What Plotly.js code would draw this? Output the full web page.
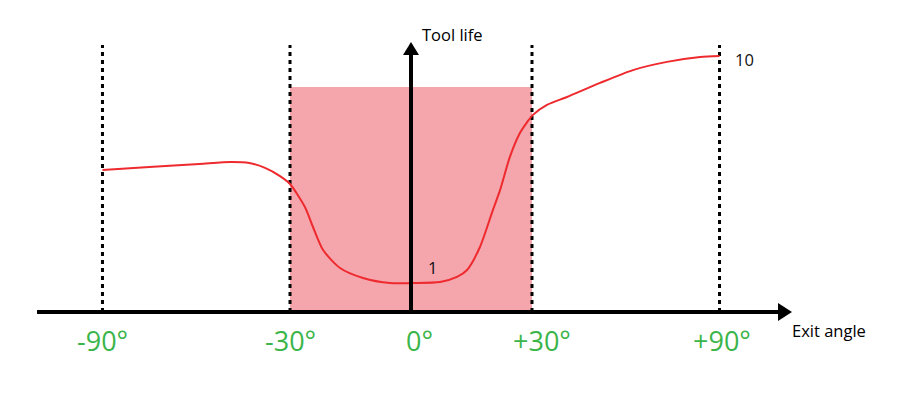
<!DOCTYPE html>
<html>
<head>
<meta charset="utf-8">
<script src="https://cdn.plot.ly/plotly-3.0.1.min.js"></script>
<style>html,body{margin:0;padding:0;background:#fff;}#chart{width:921px;height:411px;}</style>
</head>
<body>
<div id="chart"></div>
<script>
// ---- data (exit angle in degrees, tool life in relative units) ----
const tickAngles = [-90, -30, 0, 30, 90];
const tickLabels = ['-90°', '-30°', '0°', '+30°', '+90°'];
const curveAngle = [-90, -75, -59, -49, -43, -38, -33.2, -30, -26.3, -24.3, -21.8, -17.6, -11.9, -5.2, 0.5, 7.2, 11.4, 13.9, 17.1, 20.3, 22.1, 24.5, 27.0, 28.8, 30.3, 34.8, 41.2, 51.8, 62.3, 73.2, 83.8, 90];
const curveLife  = [5.55, 5.66, 5.78, 5.86, 5.82, 5.63, 5.31, 5.0, 4.10, 3.32, 2.42, 1.72, 1.33, 1.13, 1.13, 1.17, 1.37, 1.64, 2.54, 3.98, 4.77, 6.05, 6.99, 7.42, 7.70, 8.09, 8.40, 8.95, 9.45, 9.77, 9.96, 10.0];
const zoneAngles = [-30, 30];
const zoneTop = 8.79;
const pointLabels = ['1', '10'];
const pointAngles = [0, 90];
const pointLife = [1.13, 10.0];
const xTitle = 'Exit angle';
const yTitle = 'Tool life';

// ---- schematic axis warp: the ±30° zone is drawn wider than the outer parts ----
function disp(d) {
  const a = Math.abs(d);
  if (a <= 30) return d;
  return Math.sign(d) * (30 + (a - 30) * 46.5 / 60);
}

const PX_X = 4.033, PX_Y = 25.6, X0 = 411, Y0 = 312, W = 921, H = 411;
const xRange = [(0 - X0) / PX_X, (W - X0) / PX_X];
const yRange = [(Y0 - H) / PX_Y, Y0 / PX_Y];
const px = p => (p - X0) / PX_X;      // layout helper for decorations
const py = p => (Y0 - p) / PX_Y;

const green = '#3bb54a';
const font = 'Open Sans, Noto Sans, sans-serif';

const trace = {
  x: curveAngle.map(disp), y: curveLife,
  type: 'scatter', mode: 'lines',
  line: {color: '#ee2a2e', width: 2, shape: 'spline', smoothing: 0.7},
  hoverinfo: 'skip'
};

const shapes = [];
// shaded zone
shapes.push({type: 'rect', layer: 'below', xref: 'x', yref: 'y',
  x0: disp(zoneAngles[0]), x1: disp(zoneAngles[1]), y0: 0, y1: zoneTop,
  fillcolor: '#f5a5ac', line: {width: 0}});
// dashed guide lines
tickAngles.forEach(a => {
  if (a === 0) return;
  shapes.push({type: 'line', layer: 'below', xref: 'x', yref: 'y',
    x0: disp(a), x1: disp(a), y0: 0, y1: py(45),
    line: {color: '#000', width: 3, dash: '4px,4px'}});
});
// x axis line + arrow head
shapes.push({type: 'line', layer: 'above', xref: 'x', yref: 'y',
  x0: px(37), x1: px(781), y0: 0, y1: 0, line: {color: '#000', width: 4}});
shapes.push({type: 'path', layer: 'above', xref: 'x', yref: 'y',
  path: `M ${px(792)} 0 L ${px(778)} ${py(303)} L ${px(778)} ${py(321)} Z`,
  fillcolor: '#000', line: {width: 0}});
// y axis line + arrow head
shapes.push({type: 'line', layer: 'above', xref: 'x', yref: 'y',
  x0: 0, x1: 0, y0: 0, y1: py(52), line: {color: '#000', width: 4}});
shapes.push({type: 'path', layer: 'above', xref: 'x', yref: 'y',
  path: `M 0 ${py(42)} L ${px(403)} ${py(55)} L ${px(419)} ${py(55)} Z`,
  fillcolor: '#000', line: {width: 0}});

const labelShift = [0, 0, 8, 10, 2];
const annotations = [];
tickAngles.forEach((a, i) => {
  annotations.push({x: disp(a), y: py(340), xref: 'x', yref: 'y', text: tickLabels[i],
    showarrow: false, xanchor: 'center', yanchor: 'middle', xshift: labelShift[i],
    font: {family: font, size: 27, color: green}});
});
annotations.push({x: px(790), y: py(330), xref: 'x', yref: 'y', text: xTitle, showarrow: false,
  xanchor: 'left', yanchor: 'middle', font: {family: font, size: 16.5, color: '#000'}});
annotations.push({x: px(420), y: py(34), xref: 'x', yref: 'y', text: yTitle, showarrow: false,
  xanchor: 'left', yanchor: 'middle', font: {family: font, size: 16.5, color: '#000'}});
// point labels
annotations.push({x: disp(pointAngles[0]), y: pointLife[0], xref: 'x', yref: 'y', text: pointLabels[0],
  showarrow: false, xanchor: 'center', yanchor: 'middle', xshift: 21, yshift: 16,
  font: {family: font, size: 16.5, color: '#111'}});
annotations.push({x: disp(pointAngles[1]), y: pointLife[1], xref: 'x', yref: 'y', text: pointLabels[1],
  showarrow: false, xanchor: 'left', yanchor: 'middle', xshift: 13, yshift: -3,
  font: {family: font, size: 16.5, color: '#111'}});

const layout = {
  width: W, height: H,
  margin: {l: 0, r: 0, t: 0, b: 0, pad: 0},
  paper_bgcolor: '#fff', plot_bgcolor: '#fff',
  showlegend: false,
  xaxis: {range: xRange, visible: false, fixedrange: true},
  yaxis: {range: yRange, visible: false, fixedrange: true},
  shapes: shapes, annotations: annotations
};

Plotly.newPlot('chart', [trace], layout, {displayModeBar: false, staticPlot: true});
</script>
</body>
</html>
